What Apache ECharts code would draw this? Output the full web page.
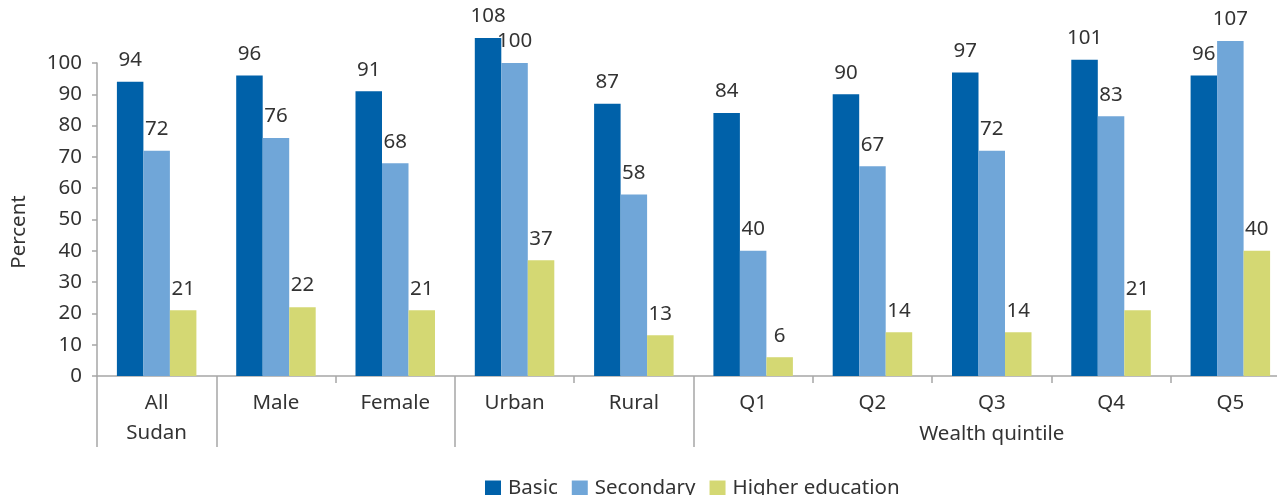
<!DOCTYPE html>
<html>
<head>
<meta charset="utf-8">
<script src="https://cdn.jsdelivr.net/npm/echarts@6/dist/echarts.min.js"></script>
<style>
  html, body { margin: 0; padding: 0; background: #fff; }
  #chart { width: 1277px; height: 495px; }
</style>
</head>
<body>
<div id="chart"></div>
<script>
// Gross enrolment ratio by level, population group and wealth quintile
const categories = ['All\nSudan', 'Male', 'Female', 'Urban', 'Rural', 'Q1', 'Q2', 'Q3', 'Q4', 'Q5'];
const seriesNames = ['Basic', 'Secondary', 'Higher education'];
const basic = [94, 96, 91, 108, 87, 84, 90, 97, 101, 96];
const secondary = [72, 76, 68, 100, 58, 40, 67, 72, 83, 107];
const higher = [21, 22, 21, 37, 13, 6, 14, 14, 21, 40];

// Grouping of the category axis: indices where a group begins, and the group caption
const groupStarts = [0, 1, 3, 5];
const groupCaption = 'Wealth quintile';
const groupCaptionIndex = 7;

const yMin = 0, yMax = 100, yStep = 10;

const FONT = '"Noto Sans", "Open Sans", sans-serif';
const FS = 20.5;
const TEXT = '#333333';
const AXIS = '#a6a6a6';
const COLORS = ['#0061a9', '#70a6d8', '#d4d873'];

const chart = echarts.init(document.getElementById('chart'), null, { renderer: 'canvas' });

function barSeries(name, data, color) {
  return {
    name: name,
    type: 'bar',
    data: data,
    xAxisIndex: 0,
    barWidth: 26.5,
    barGap: '0%',
    clip: false,
    itemStyle: { color: color },
    label: {
      show: true,
      position: 'top',
      distance: 11,
      fontFamily: FONT,
      fontSize: FS,
      color: TEXT
    }
  };
}

chart.setOption({
  animation: false,
  backgroundColor: '#ffffff',
  textStyle: { fontFamily: FONT },
  color: COLORS,
  grid: {
    left: 97, top: 63, width: 1193, height: 313,
    containLabel: false,
    outerBoundsMode: 'none'
  },
  legend: {
    data: seriesNames,
    left: 485,
    top: 478,
    padding: 0,
    icon: 'rect',
    itemWidth: 16,
    itemHeight: 16,
    itemGap: 14,
    textStyle: { fontFamily: FONT, fontSize: FS, color: TEXT, padding: [0, 0, 0, 2] }
  },
  xAxis: [
    {
      type: 'category',
      data: categories,
      boundaryGap: true,
      axisLine: { lineStyle: { color: AXIS, width: 1.5 } },
      axisTick: { show: true, interval: 0, length: 7, lineStyle: { color: AXIS, width: 1.5 } },
      axisLabel: {
        interval: 0,
        margin: 12,
        fontFamily: FONT,
        fontSize: FS,
        lineHeight: 30,
        color: TEXT
      },
      splitLine: { show: false }
    },
    {
      // group separators and group caption under the categories
      type: 'category',
      data: categories,
      position: 'bottom',
      offset: 0,
      boundaryGap: true,
      axisLine: { show: false },
      axisTick: {
        show: true,
        length: 71,
        interval: function (index) { return groupStarts.indexOf(index) !== -1; },
        lineStyle: { color: AXIS, width: 1.5 }
      },
      axisLabel: {
        interval: 0,
        margin: 43,
        fontFamily: FONT,
        fontSize: FS,
        lineHeight: 30,
        color: TEXT,
        formatter: function (v, index) { return index === groupCaptionIndex ? groupCaption : ''; }
      },
      splitLine: { show: false }
    }
  ],
  yAxis: {
    type: 'value',
    min: yMin,
    max: yMax,
    interval: yStep,
    name: 'Percent',
    nameLocation: 'middle',
    nameGap: 67,
    nameRotate: 90,
    nameTextStyle: { fontFamily: FONT, fontSize: FS, color: TEXT, padding: [0, 25, 0, 0] },
    axisLine: { show: true, lineStyle: { color: AXIS, width: 1.5 } },
    axisTick: { show: true, length: 5, lineStyle: { color: AXIS, width: 1.5 } },
    axisLabel: { margin: 15, fontFamily: FONT, fontSize: FS, color: TEXT },
    splitLine: { show: false }
  },
  series: [
    barSeries(seriesNames[0], basic, COLORS[0]),
    barSeries(seriesNames[1], secondary, COLORS[1]),
    barSeries(seriesNames[2], higher, COLORS[2])
  ]
});
</script>
</body>
</html>
